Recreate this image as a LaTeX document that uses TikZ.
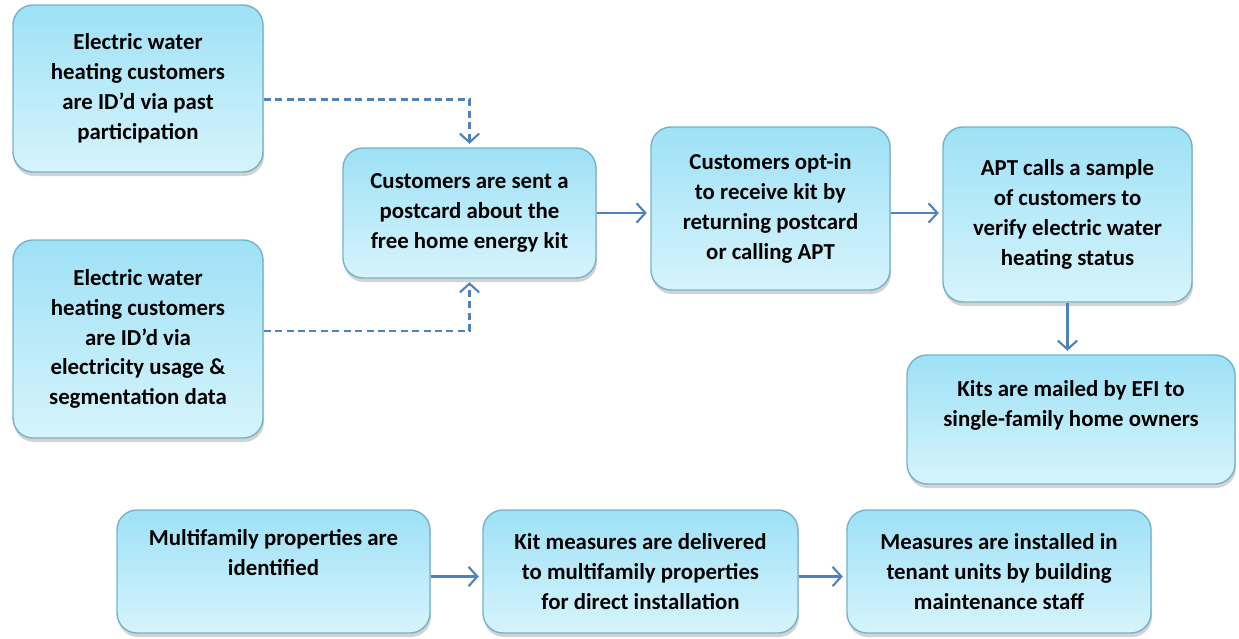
\documentclass[tikz,border=0pt]{standalone}
\usepackage{fontspec}
\setmainfont{Carlito}
\usepackage{tikz}
\usetikzlibrary{arrows.meta,shadows}

\definecolor{boxtop}{RGB}{158,225,246}
\definecolor{boxbot}{RGB}{214,244,252}
\definecolor{boxline}{RGB}{118,178,204}
\definecolor{arrowblue}{RGB}{79,129,189}

\begin{document}
\begin{tikzpicture}[->,>={Straight Barb[length=5pt,width=11pt]},shorten >=2pt,line width=1.2pt,
                    font=\fontsize{13}{17}\selectfont\bfseries]
          \tikzstyle{box}=[draw=boxline,line width=0.8pt,rounded corners=0.4cm,
                           top color=boxtop,bottom color=boxbot,align=center,
                           inner sep=2pt,
                           drop shadow={opacity=0.35,shadow xshift=0.02cm,shadow yshift=-0.08cm}]
          \tikzstyle{flow}=[draw=arrowblue]
          \tikzstyle{guess}=[draw=arrowblue,dash pattern=on 4pt off 2.5pt]

          \useasboundingbox (0,0) rectangle (24.78,-12.76);

          \node[box,minimum width=5cm,minimum height=3.34cm]    (A1) at (2.76,-1.77)
               {Electric water\\ heating customers\\ are ID'd via past\\ participation};
          \node[box,minimum width=5cm,minimum height=3.96cm]    (A2) at (2.76,-6.78)
               {Electric water\\ heating customers\\ are ID'd via\\ electricity usage \&\\ segmentation data};
          \node[box,minimum width=5.06cm,minimum height=2.6cm]  (B)  at (9.39,-4.26)
               {Customers are sent a\\ postcard about the\\ free home energy kit};
          \node[box,minimum width=4.78cm,minimum height=3.26cm] (C)  at (15.41,-4.17)
               {Customers opt-in\\ to receive kit by\\ returning postcard\\ or calling APT};
          \node[box,minimum width=4.98cm,minimum height=3.5cm]  (D)  at (21.35,-4.29)
               {APT calls a sample\\ of customers to\\ verify electric water\\ heating status};
          \node[box,minimum width=6.56cm,minimum height=2.58cm] (E)  at (21.42,-8.39)
               {Kits are mailed by EFI to\\ single-family home owners\\[-4pt] \strut};
          \node[box,minimum width=6.26cm,minimum height=2.46cm] (F)  at (5.47,-11.43)
               {Multifamily properties are\\ identified\\ \strut};
          \node[box,minimum width=6.3cm,minimum height=2.46cm]  (G)  at (12.81,-11.43)
               {Kit measures are delivered\\ to multifamily properties\\ for direct installation};
          \node[box,minimum width=6.08cm,minimum height=2.46cm] (H)  at (19.98,-11.43)
               {Measures are installed in\\ tenant units by building\\ maintenance staff};

          \path[guess] ([yshift=-0.22cm]A1.east) -| (B.north);
          \path[guess] ([yshift=0.16cm]A2.east) -| (B.south);
          \path[flow] (B.east) -- (B.east -| C.west);
          \path[flow] (C.east |- B.east) -- (B.east -| D.west);
          \path[flow] (D.south) -- (D.south |- E.north);
          \path[flow] ([yshift=-0.1cm]F.east) -- ([yshift=-0.1cm]G.west);
          \path[flow] ([yshift=-0.1cm]G.east) -- ([yshift=-0.1cm]H.west);

        \end{tikzpicture}
\end{document}
